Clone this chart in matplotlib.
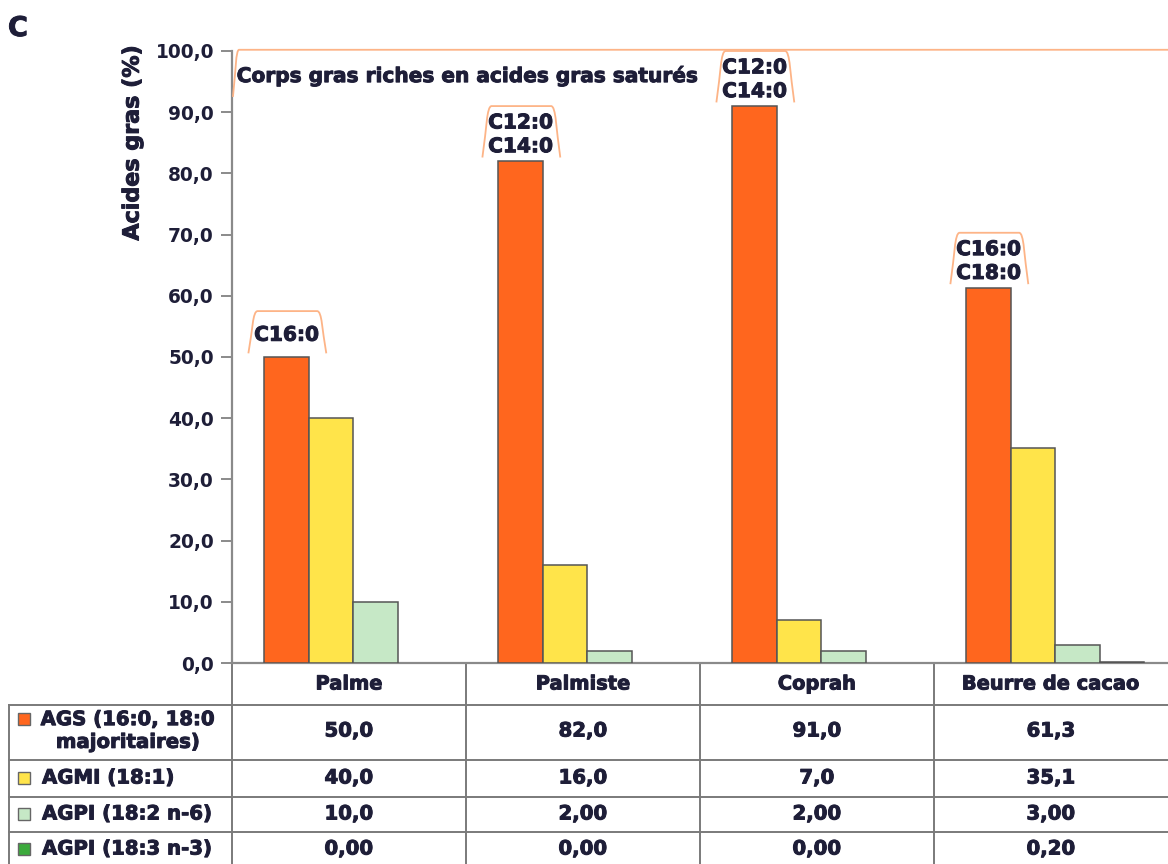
import matplotlib
matplotlib.use("Agg")
import matplotlib.pyplot as plt
import matplotlib.patheffects as pe
from matplotlib.patches import Rectangle, PathPatch
from matplotlib.path import Path
from matplotlib.ticker import FuncFormatter
from matplotlib import transforms

# --- data -------------------------------------------------------------
categories = ["Palme", "Palmiste", "Coprah", "Beurre de cacao"]
series_labels = ["AGS (16:0, 18:0\nmajoritaires)", "AGMI (18:1)",
                 "AGPI (18:2 n-6)", "AGPI (18:3 n-3)"]
ags = [50.0, 82.0, 91.0, 61.3]
agmi = [40.0, 16.0, 7.0, 35.1]
agpi_n6 = [10.0, 2.00, 2.00, 3.00]
agpi_n3 = [0.00, 0.00, 0.00, 0.20]
main_acids = ["C16:0", "C12:0\nC14:0", "C12:0\nC14:0", "C16:0\nC18:0"]
y_ticks = [0, 10, 20, 30, 40, 50, 60, 70, 80, 90, 100]
title = "Corps gras riches en acides gras saturés"
y_label = "Acides gras (%)"

# --- style ------------------------------------------------------------
colors = ["#FF661E", "#FFE44A", "#C6E8C6", "#3CAA3C"]
edge = "#555555"
txt = "#1E1E38"
frame_col = "#FDB487"
plt.rcParams["font.family"] = ["DejaVu Sans"]
heavy = [pe.Stroke(linewidth=0.7, foreground=txt), pe.Normal()]

W, H = 1168, 864
fig = plt.figure(figsize=(W / 100, H / 100), dpi=100)

# pixel overlay for the table and free text
ov = fig.add_axes([0, 0, 1, 1])
ov.set_xlim(0, W)
ov.set_ylim(H, 0)
ov.axis("off")
ov.patch.set_alpha(0)

left_px, right_px, y0_px, y100_px = 232, 1168, 663, 51
ax = fig.add_axes([left_px / W, (H - y0_px) / H, (right_px - left_px) / W,
                   (y0_px - y100_px) / H])
ax.set_xlim(0, 4)
ax.set_ylim(0, 100)
ax.patch.set_alpha(0)

series = [ags, agmi, agpi_n6, agpi_n3]
bw, off = 0.19, 0.138
for j, vals in enumerate(series):
    xs = [i + off + j * bw for i in range(len(categories))]
    lws = [1.1 if v > 0 else 0 for v in vals]
    ax.bar(xs, vals, width=bw, align="edge", color=colors[j],
           edgecolor=edge, linewidth=lws, zorder=3)

for s in ["top", "right"]:
    ax.spines[s].set_visible(False)
for s in ["left", "bottom"]:
    ax.spines[s].set_color("#8A8A8A")
    ax.spines[s].set_linewidth(1.6)
ax.set_xticks([])
ax.set_yticks(y_ticks)
ax.yaxis.set_major_formatter(FuncFormatter(lambda v, p: f"{v:.1f}".replace(".", ",")))
ax.tick_params(axis="y", direction="out", length=8, width=1.4, color="#8A8A8A",
               labelsize=13.4, labelcolor=txt, pad=5)
for lb in ax.get_yticklabels():
    lb.set_fontweight("bold")

ax.text(-0.425, 101, y_label, rotation=90, ha="center", va="top",
        fontsize=16, fontweight="bold", color=txt, transform=ax.transData,
        clip_on=False, path_effects=heavy)
ov.text(8, 29, "C", fontsize=19.5, fontweight="bold", color=txt, va="center",
        path_effects=heavy)


def arch(x_left, x_right, y_bot, y_top, d=0.018):
    h = y_top - y_bot
    verts = [(x_left, y_bot), (x_left + d, y_bot + h * 0.55), (x_left + d, y_top),
             (x_left + 2.2 * d, y_top),
             (x_right - 2.2 * d, y_top),
             (x_right - d, y_top), (x_right - d, y_bot + h * 0.55), (x_right, y_bot)]
    codes = [Path.MOVETO, Path.CURVE4, Path.CURVE4, Path.CURVE4,
             Path.LINETO, Path.CURVE4, Path.CURVE4, Path.CURVE4]
    ax.add_patch(PathPatch(Path(verts, codes), fill=False, edgecolor=frame_col,
                           linewidth=1.3, clip_on=False, zorder=4))


# outer frame of the chart title
arch(0.004, 4.6, 92.5, 100.2, d=0.012)
ax.text(0.02, 95.9, title, ha="left", va="center", fontsize=14.5,
        fontweight="bold", color=txt, zorder=5, path_effects=heavy)

# main saturated acid labels above each AGS bar
for i, (v, lab) in enumerate(zip(ags, main_acids)):
    n = lab.count("\n") + 1
    xl = i + off - 0.068
    xr = i + off + bw + 0.075
    yb = v + 0.6
    yt = min(v + 7.5 + 1.5 * (n - 1), 100.2)
    arch(xl, xr, yb, yt)
    ax.text(i + off + bw / 2, (yb + yt) / 2 - 0.5, lab, ha="center", va="center",
            fontsize=14.5, fontweight="bold", color=txt, linespacing=1.32,
            zorder=5, path_effects=heavy)

# --- table ------------------------------------------------------------
bt = transforms.blended_transform_factory(ax.transData, ov.transData)
grid = "#7A7A7A"
row_lines = [705, 760, 797, 832]
row_centers = [731, 778, 814, 849]
ov.plot([left_px, left_px], [y0_px, H], color=grid, lw=1.4)
for i in range(1, len(categories)):
    ov.plot([i, i], [y0_px, H], color=grid, lw=1.4, transform=bt)
ov.plot([9, 9], [705, H], color=grid, lw=1.4)
for y in row_lines:
    ov.plot([9, W], [y, y], color=grid, lw=1.4)

for i, c in enumerate(categories):
    ov.text(i + 0.5, 684, c, transform=bt, ha="center", va="center",
            fontsize=14, fontweight="bold", color=txt, path_effects=heavy)


def fmt(v, r):
    if r < 2:
        s = f"{v:.1f}"
    else:
        s = f"{v:.1f}" if abs(v) >= 10 else f"{v:.2f}"
    return s.replace(".", ",")


for r, vals in enumerate(series):
    for i, v in enumerate(vals):
        ov.text(i + 0.5, row_centers[r], fmt(v, r), transform=bt, ha="center",
                va="center", fontsize=14.2, fontweight="bold", color=txt,
                path_effects=heavy)
    sq_y = 719 if r == 0 else row_centers[r]
    ov.add_patch(Rectangle((18, sq_y - 6), 12, 12, facecolor=colors[r],
                           edgecolor="#666666", lw=1.0))
    if r == 0:
        ov.text(128, row_centers[r], series_labels[r], ha="center", va="center",
                fontsize=14.2, fontweight="bold", color=txt, linespacing=1.25,
                path_effects=heavy)
    else:
        ov.text(42, row_centers[r], series_labels[r], ha="left", va="center",
                fontsize=14.2, fontweight="bold", color=txt, path_effects=heavy)

fig.savefig("out.png", dpi=100)
